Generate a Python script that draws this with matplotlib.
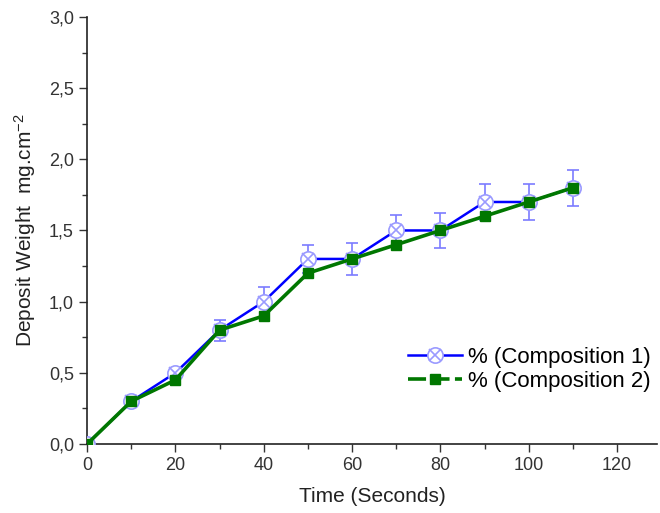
import matplotlib
matplotlib.use("Agg")
import matplotlib.pyplot as plt
from matplotlib.ticker import MultipleLocator, FuncFormatter
from matplotlib.lines import Line2D

plt.rcParams['font.family'] = ['Liberation Sans', 'DejaVu Sans']
plt.rcParams['mathtext.fontset'] = 'custom'
plt.rcParams['mathtext.rm'] = 'Liberation Sans'
plt.rcParams['mathtext.it'] = 'Liberation Sans:italic'
plt.rcParams['mathtext.bf'] = 'Liberation Sans:bold'

time = [0, 10, 20, 30, 40, 50, 60, 70, 80, 90, 100, 110]
comp1 = [0, 0.3, 0.5, 0.8, 1.0, 1.3, 1.3, 1.5, 1.5, 1.7, 1.7, 1.8]
comp1_err = [0, 0.025, 0.03, 0.073, 0.105, 0.097, 0.11, 0.11, 0.12, 0.125, 0.125, 0.125]
comp2 = [0, 0.3, 0.45, 0.8, 0.9, 1.2, 1.3, 1.4, 1.5, 1.6, 1.7, 1.8]
labels = ['% (Composition 1)', '% (Composition 2)']

fig = plt.figure(figsize=(6.6, 5.13), dpi=100)
ax = fig.add_axes([0.132, 0.1345, 0.863, 0.8325])

ax.errorbar(time, comp1, yerr=comp1_err, fmt='none', ecolor='#7b7bff', elinewidth=1.2,
            capsize=4, capthick=1.2, zorder=2)
ax.plot(time, comp1, color='#0000ff', lw=1.8, marker='o', ms=11,
        mfc='white', mec='#9a9aff', mew=1.2, zorder=3)
ax.plot(time, comp1, ls='none', marker='x', ms=8, mec='#9a9aff', mew=1.2, zorder=3)
ax.plot(time, comp2, color='#007700', lw=2.6, marker='s', ms=7,
        mfc='#007700', mec='#007700', zorder=4)

p1 = Line2D([], [], color='#0000ff', lw=1.8, marker='o', ms=11, mfc='white', mec='#9a9aff', mew=1.2)
p1b = Line2D([], [], ls='none', marker='x', ms=8, mec='#9a9aff', mew=1.2)
p2 = Line2D([], [], color='#007700', lw=2.6, ls=(0, (5, 1.5)), marker='s', ms=7, mfc='#007700', mec='#007700')
ax.legend([(p1, p1b), p2], labels, loc='lower right', bbox_to_anchor=(1.025, 0.075),
          frameon=False, fontsize=16, handlelength=2.4, handletextpad=0.3, labelspacing=0.15)

ax.set_xlim(0, 129)
ax.set_ylim(0, 3.0)
ax.xaxis.set_major_locator(MultipleLocator(20))
ax.xaxis.set_minor_locator(MultipleLocator(10))
ax.yaxis.set_major_locator(MultipleLocator(0.5))
ax.yaxis.set_minor_locator(MultipleLocator(0.25))
ax.yaxis.set_major_formatter(FuncFormatter(lambda v, p: f"{v:.1f}".replace('.', ',')))
ax.tick_params(which='major', direction='out', length=6, width=1, labelsize=13, colors='#333333', labelcolor='#333333')
ax.tick_params(which='minor', direction='out', length=3.5, width=1, colors='#333333')
for s in ['top', 'right']:
    ax.spines[s].set_visible(False)
for s in ['left', 'bottom']:
    ax.spines[s].set_linewidth(1.2)
    ax.spines[s].set_color('#222222')

ax.set_xlabel('Time (Seconds)', fontsize=15, color='#222222', labelpad=9)
ax.set_ylabel('Deposit Weight  mg.cm$^{-2}$', fontsize=15, color='#222222', labelpad=8)

fig.savefig('out.png', dpi=100)
